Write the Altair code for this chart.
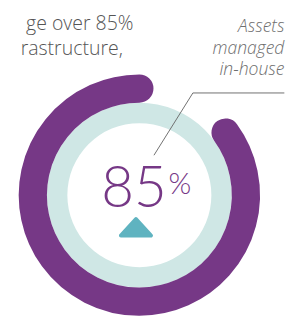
import math
import altair as alt
import pandas as pd

# ---- data ----
share_value = [85]                      # assets managed in-house (%)
track_value = [100]                     # full background ring
percent_sign = ["%"]
callout_lines = ["Assets", "managed", "in-house"]
intro_lines = ["ge over 85%", "rastructure,"]

# ---- styles ----
PURPLE = "#763886"
TRACK = "#cfe7e5"
TEAL = "#5fb3c0"
GRAY = "#6e6e6e"
DARK = "#555555"

W, H = 297, 312
CX, CY = 135, 188

theta_scale = alt.Scale(domain=[0, 100], range=[0, 2 * math.pi])

share_df = pd.DataFrame({"value": share_value})
track_df = pd.DataFrame({"value": track_value})
pct_df = pd.DataFrame({"sign": percent_sign})
intro1 = pd.DataFrame({"t": [intro_lines[0]]})
intro2 = pd.DataFrame({"t": [intro_lines[1]]})

track = alt.Chart(track_df).mark_arc(radius=95, radius2=74, color=TRACK).encode(
    theta=alt.Theta("value:Q", scale=theta_scale),
    x=alt.value(CX), y=alt.value(CY),
)

ring = alt.Chart(share_df).transform_calculate(
    start="100 - datum.value", end="100"
).mark_arc(
    radius=109.5, radius2=109.5, stroke=PURPLE, strokeWidth=29,
    strokeJoin="round", strokeCap="round", fill=PURPLE, fillOpacity=0,
).encode(
    theta=alt.Theta("start:Q", scale=theta_scale),
    theta2="end:Q",
    x=alt.value(CX), y=alt.value(CY),
)

big = alt.Chart(share_df).mark_text(
    font="Lato", fontSize=58, fontWeight=300, color=PURPLE,
    align="right", baseline="alphabetic",
).encode(text=alt.Text("value:Q", format="d"), x=alt.value(163), y=alt.value(200))

pct = alt.Chart(pct_df).mark_text(
    font="Lato", fontSize=30, fontWeight=300, color=PURPLE,
    align="left", baseline="alphabetic",
).encode(text="sign:N", x=alt.value(165), y=alt.value(187))

tri = alt.Chart(share_df).mark_point(
    shape="M0,-0.55L1,0.55L-1,0.55Z", filled=True, size=961, color=TEAL,
    stroke=TEAL, strokeWidth=4, strokeJoin="round", opacity=1,
).encode(x=alt.value(131.5), y=alt.value(221))

lead1 = alt.Chart(share_df).mark_rule(color=GRAY, strokeWidth=1).encode(
    x=alt.value(150), y=alt.value(147), x2=alt.value(190), y2=alt.value(83))
lead2 = alt.Chart(share_df).mark_rule(color=GRAY, strokeWidth=1).encode(
    x=alt.value(190), y=alt.value(83), x2=alt.value(284), y2=alt.value(83))

callout = alt.Chart(share_df).mark_text(
    font="Open Sans", fontSize=18, fontStyle="italic", fontWeight=300, color=GRAY,
    align="right", baseline="alphabetic", lineHeight=22.5,
).encode(text=alt.value(callout_lines), x=alt.value(284), y=alt.value(20))

t1 = alt.Chart(intro1).mark_text(
    font="Open Sans", fontSize=20, fontWeight=300, color=DARK,
    align="right", baseline="alphabetic",
).encode(text="t:N", x=alt.value(129), y=alt.value(18))
t2 = alt.Chart(intro2).mark_text(
    font="Open Sans", fontSize=20, fontWeight=300, color=DARK,
    align="right", baseline="alphabetic",
).encode(text="t:N", x=alt.value(118), y=alt.value(44))

chart = alt.layer(track, ring, big, pct, tri, lead1, lead2, callout, t1, t2).properties(
    width=W, height=H, autosize=alt.AutoSizeParams(type="none"), padding=0,
).configure_view(stroke=None)

chart.save("out.html", embed_options={"renderer": "svg", "actions": False})
